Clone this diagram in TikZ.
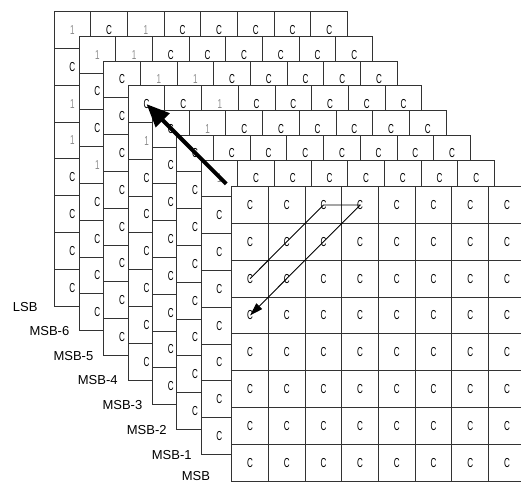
\documentclass[tikz,border=0pt]{standalone}
\usepackage{fontspec}
\setmainfont{Liberation Sans}
\usetikzlibrary{arrows.meta,calc}
\tikzset{
  cell/.style={draw=black!80, line width=0.9pt, fill=white,
    minimum width=36.7pt, minimum height=36.8pt, inner sep=0pt,
    font=\fontsize{13}{15}\selectfont},
  layerlabel/.style={anchor=west, inner sep=0pt, font=\fontsize{13}{15}\selectfont},
  bigarrow/.style={line width=4pt, -{Triangle[length=23pt,width=19pt]}},
  scanpath/.style={line width=0.9pt, -{Triangle[length=13pt,width=8pt]}},
}
\newcommand{\narrowtxt}[1]{\scalebox{0.62}[1]{#1}}
\newcommand{\markone}[3]{\expandafter\def\csname isone@#1@#2@#3\endcsname{}}
\markone{1}{0}{0}\markone{1}{0}{2}\markone{1}{2}{0}\markone{1}{3}{0}
\markone{2}{0}{0}\markone{2}{0}{1}\markone{2}{3}{0}
\markone{3}{0}{1}\markone{3}{0}{2}
\markone{4}{0}{2}\markone{4}{1}{0}
\markone{5}{0}{1}
\markone{7}{0}{0}
\begin{document}
\begin{tikzpicture}[x=1pt,y=-1pt]
\path[use as bounding box] (0,0) rectangle (521,482);
\clip (0,0) rectangle (521,482);
\foreach \k/\lx/\ty in {1/54/11.7, 2/79/36.2, 3/103.7/61, 4/128.2/85.7,
    5/152.5/110.3, 6/176.8/135, 7/201/160, 8/231.7/186.6} {
  \foreach \r in {0,...,7} {
    \foreach \c in {0,...,7} {
      \ifcsname isone@\k @\r @\c\endcsname
        \def\ctx{1}\def\ccol{black!45}%
      \else
        \def\ctx{C}\def\ccol{black}%
      \fi
      \node[cell, text=\ccol] (L\k-\r-\c) at ({\lx+36.7*\c+18.35},{\ty+36.8*\r+18.4}) {\narrowtxt{\ctx}};
    }
  }
}
\node[layerlabel] (lab1) at (12.7,306.7) {LSB};
\node[layerlabel] (lab2) at (29.3,331) {MSB-6};
\node[layerlabel] (lab3) at (53.3,356) {MSB-5};
\node[layerlabel] (lab4) at (77.7,380.5) {MSB-4};
\node[layerlabel] (lab5) at (102.3,405) {MSB-3};
\node[layerlabel] (lab6) at (126.7,430) {MSB-2};
\node[layerlabel] (lab7) at (151.7,455) {MSB-1};
\node[layerlabel] (lab8) at (181.7,476) {MSB};
\coordinate (tail) at ($(L8-0-0.north west)+(-5,-2.3)$);
\draw[bigarrow] (tail) -- (L4-0-0.center);
\draw[scanpath] (L8-2-0.center) -- (L8-0-2.center) -- (L8-0-3.center) -- (L8-3-0.center);
\end{tikzpicture}
\end{document}
